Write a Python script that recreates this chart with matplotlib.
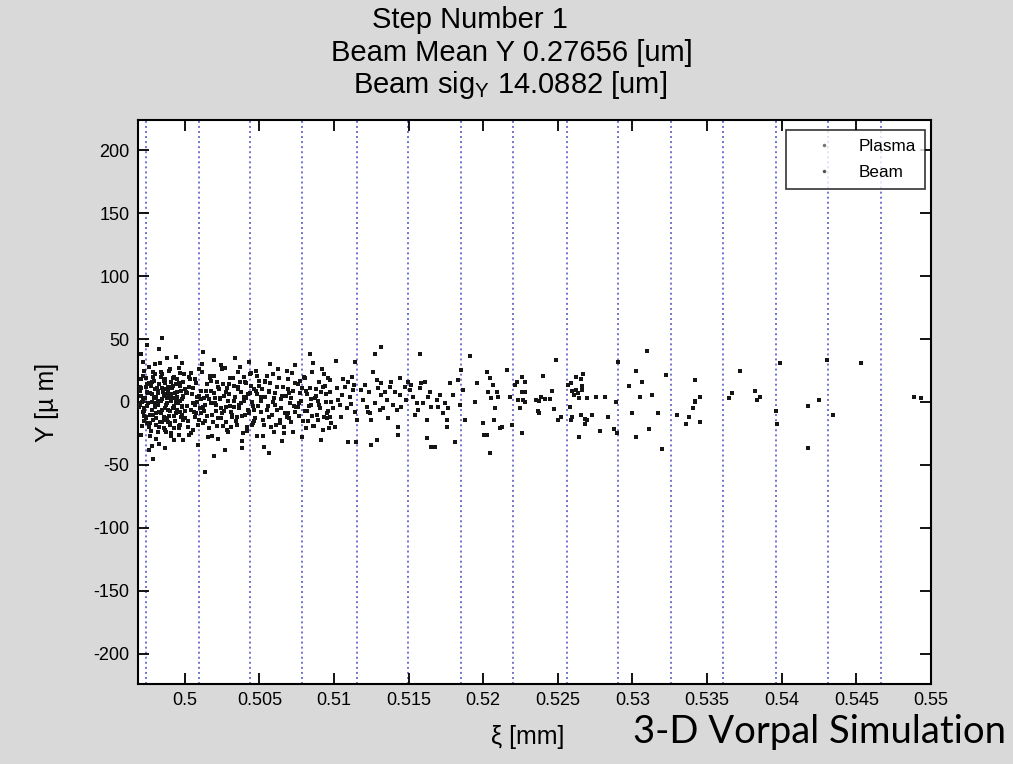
import numpy as np
import matplotlib
matplotlib.use("Agg")
from matplotlib import pyplot as plt

# plasma slab positions (mm)
plasma_zeta = [0.49743, 0.50096, 0.50440, 0.50789, 0.51151, 0.51497, 0.51848, 0.52200,
               0.52558, 0.52904, 0.53255, 0.53608, 0.53959, 0.54312, 0.54663]

# beam particles, head of the bunch (dense part)
head_zeta = [0.4971, 0.4972, 0.4971, 0.4973, 0.4972, 0.4974, 0.4975, 0.4973, 0.4976, 0.4975,
             0.4977, 0.4976, 0.4978, 0.4977, 0.4979, 0.4978, 0.4980, 0.4979, 0.4981, 0.4980,
             0.4982, 0.4981, 0.4983, 0.4982, 0.4984, 0.4983, 0.4985, 0.4984, 0.4986, 0.4985,
             0.4987, 0.4986, 0.4988, 0.4987, 0.4989, 0.4988, 0.4990, 0.4989, 0.4991, 0.4990,
             0.4992, 0.4991, 0.4993, 0.4992, 0.4994, 0.4993, 0.4995, 0.4994, 0.4996, 0.4995,
             0.4997, 0.4996, 0.4998, 0.4997, 0.4999, 0.4998, 0.5000, 0.4999, 0.4970, 0.4974,
             0.4978, 0.4982, 0.4986, 0.4990, 0.4994, 0.4998, 0.4972, 0.4976, 0.4980, 0.4984,
             0.4988, 0.4992, 0.4996, 0.4975, 0.4979, 0.4983, 0.4987, 0.4991, 0.4995, 0.4999,
             0.4973, 0.4977, 0.4981, 0.4985, 0.4989, 0.4993, 0.4997, 0.4971, 0.4975, 0.4979,
             0.49851, 0.49828, 0.50136, 0.50565, 0.50196, 0.49868, 0.49985, 0.50387]
head_y = [5, -8, 18, -15, 2, 12, -3, 25, -20, 8,
          -10, 15, 0, -27, 20, -6, 10, -14, 4, 30,
          -2, -18, 14, 7, -9, -33, 22, 1, -12, 11,
          -5, 17, 3, -22, 9, -1, 26, -16, 6, -7,
          13, -25, -3, 19, 0, -11, 8, 36, -19, 4,
          -8, 15, -4, 23, -14, 2, 10, -30, -2, -12,
          16, -24, 5, -18, 14, -10, 32, -38, -1, 20,
          -13, 3, -26, 45, -45, -8, 10, 16, -6, 5,
          -5, 7, -9, -16, 12, -21, 1, 11, -17, 24,
          50.6, 41.9, -55.4, -40.8, 33.4, -36.3, 31.0, -36.3]

head2_zeta = [0.49695, 0.49702, 0.49711, 0.49718, 0.49724, 0.49733, 0.49741, 0.49749, 0.49756, 0.49764,
              0.49771, 0.49779, 0.49786, 0.49794, 0.49802, 0.49809, 0.49817, 0.49824, 0.49832, 0.49839,
              0.49847, 0.49855, 0.49862, 0.49869, 0.49877, 0.49884, 0.49892, 0.49899, 0.49907, 0.49914,
              0.49922, 0.49929, 0.49937, 0.49944, 0.49952, 0.49959, 0.49967, 0.49974, 0.49982, 0.49989,
              0.49698, 0.49707, 0.49716, 0.49727, 0.49738, 0.49746, 0.49753, 0.49768, 0.49776, 0.49783,
              0.49791, 0.49799, 0.49806, 0.49814, 0.49821, 0.49828, 0.49836, 0.49844, 0.49851, 0.49858,
              0.49866, 0.49873, 0.49881, 0.49888, 0.49896, 0.49903, 0.49911, 0.49918, 0.49926, 0.49933,
              0.49941, 0.49948, 0.49956, 0.49963, 0.49971, 0.49978, 0.49986, 0.49993, 0.49999, 0.49705,
              0.50004, 0.50016, 0.50027, 0.50039, 0.50044, 0.50056, 0.50069, 0.50074, 0.50087, 0.50096,
              0.50107, 0.50115, 0.50123, 0.50134, 0.50143, 0.50155, 0.50164, 0.50175, 0.50184, 0.50198,
              0.50205, 0.50217, 0.50224, 0.50235, 0.50246, 0.50253, 0.50265, 0.50274, 0.50285, 0.50296,
              0.50302, 0.50315, 0.50324, 0.50336, 0.50347, 0.50354, 0.50366, 0.50373, 0.50385, 0.50397,
              0.50403, 0.50416, 0.50425, 0.50433, 0.50444, 0.50455, 0.50464, 0.50476, 0.50482, 0.50495,
              0.50511, 0.50527, 0.50538, 0.50551, 0.50566, 0.50579, 0.50593, 0.50608, 0.50621, 0.50636,
              0.50651, 0.50669, 0.50686, 0.50699, 0.50713, 0.50726, 0.50741, 0.50756, 0.50773, 0.50791,
              0.50808, 0.50822, 0.50844, 0.50862, 0.50881, 0.50899, 0.50918, 0.50934, 0.50949, 0.50965]
head2_y = [-4, 9, -19, 21, -7, 3, -13, 14, -1, 28,
           -23, 6, -10, 17, -4, -29, 11, 1, -16, 24,
           -6, 8, -21, 15, -2, 35, -11, 4, -27, 12,
           -5, 20, -15, 2, -8, 27, -18, 9, -3, 16,
           12, -26, 0, -11, 19, -3, 7, -17, 13, -35,
           3, 22, -13, -2, 9, -20, 31, -8, 2, -14,
           18, -24, 6, -6, 25, -17, 1, 11, -30, 7,
           -9, 18, -1, -21, 13, -12, 4, 22, -7, 38,
           -13, 7, 20, -6, -25, 11, -2, 15, -18, 5,
           -9, 24, -4, -15, 9, -28, 2, 17, -10, 21,
           -1, -19, 12, 3, -13, 26, -7, 8, -22, 14,
           -3, -12, 19, 4, -18, 10, -5, 28, -11, 1,
           16, -20, 6, -8, 23, -3, -15, 9, -27, 13,
           1, -14, 17, -6, 9, -20, 22, -2, 12, -17,
           5, -9, 25, -13, 3, -24, 15, -4, 7, -15,
           19, -7, 2, -19, 10, -2, 26, -12, 6, -21]

mid1_zeta = [0.50012, 0.50031, 0.50024, 0.50047, 0.50058, 0.50066, 0.50081, 0.50077, 0.50093, 0.50104,
             0.50112, 0.50125, 0.50131, 0.50146, 0.50152, 0.50168, 0.50173, 0.50181, 0.50195, 0.50207,
             0.50214, 0.50226, 0.50238, 0.50241, 0.50255, 0.50262, 0.50279, 0.50283, 0.50291, 0.50306,
             0.50312, 0.50327, 0.50333, 0.50344, 0.50359, 0.50361, 0.50375, 0.50382, 0.50394, 0.50405,
             0.50413, 0.50421, 0.50436, 0.50448, 0.50452, 0.50467, 0.50471, 0.50486, 0.50493, 0.50498,
             0.50019, 0.50042, 0.50063, 0.50085, 0.50099, 0.50118, 0.50139, 0.50161, 0.50177, 0.50202,
             0.50221, 0.50243, 0.50259, 0.50276, 0.50298, 0.50319, 0.50338, 0.50356, 0.50379, 0.50398,
             0.50417, 0.50439, 0.50458, 0.50479, 0.50008, 0.50036, 0.50053, 0.50072, 0.50089, 0.50109,
             0.50128, 0.50149, 0.50171, 0.50188, 0.50211, 0.50232, 0.50249, 0.50268, 0.50287, 0.50309,
             0.50331, 0.50352, 0.50368, 0.50391, 0.50411, 0.50428, 0.50446, 0.50463, 0.50484, 0.50028,
             0.50121, 0.50272, 0.50431, 0.50193]
mid1_y = [-3, 12, -15, 6, -22, 18, 0, -9, 26, -5,
          9, -17, 3, 14, -11, 21, -1, -27, 7, -7,
          16, -13, 2, 29, -19, 5, -4, 11, -24, 19,
          -8, 1, 13, -15, 24, -2, 8, -31, 4, -10,
          15, -6, 22, -18, 0, 10, -13, 6, -3, 17,
          -20, 23, -8, 4, -14, 30, -2, -21, 9, 3,
          -29, -5, 14, -16, 6, -10, 35, 12, -1, 20,
          -23, 7, -17, 25, 8, 18, -1, -12, -34, 2,
          -7, 5, 19, -16, -2, 10, -9, 27, 1, -20,
          -4, -12, 16, -25, 3, -9, 13, -6, 21, -26,
          40, -38, 32, -43]

mid2_zeta = [0.50508, 0.50517, 0.50529, 0.50536, 0.50549, 0.50555, 0.50568, 0.50574, 0.50589, 0.50597,
             0.50606, 0.50618, 0.50624, 0.50639, 0.50645, 0.50657, 0.50666, 0.50678, 0.50689, 0.50694,
             0.50707, 0.50715, 0.50728, 0.50737, 0.50746, 0.50759, 0.50764, 0.50779, 0.50785, 0.50797,
             0.50806, 0.50818, 0.50827, 0.50838, 0.50849, 0.50853, 0.50867, 0.50874, 0.50886, 0.50898,
             0.50905, 0.50916, 0.50924, 0.50937, 0.50948, 0.50956, 0.50963, 0.50522, 0.50541, 0.50563,
             0.50582, 0.50601, 0.50629, 0.50648, 0.50662, 0.50683, 0.50702, 0.50721, 0.50742, 0.50768,
             0.50789, 0.50811, 0.50833, 0.50857, 0.50879, 0.50893, 0.50912, 0.50931, 0.50952, 0.50514,
             0.50572, 0.50612, 0.50653, 0.50691, 0.50733, 0.50772, 0.50813, 0.50851, 0.50891, 0.50928,
             0.50958, 0.50532, 0.50837]
mid2_y = [-8, 10, -18, 4, 21, -3, -12, 15, 0, -24,
          7, -6, 26, -14, 2, 12, -20, 5, -9, 18,
          -1, -16, 9, 29, -4, 14, -11, 1, -28, 20,
          -7, 6, -15, 11, -2, 24, -19, 3, -10, 16,
          -5, 8, -22, 13, 0, -13, 19, -27, 16, 8,
          -10, 3, 19, -5, -25, -12, 7, 23, -8, -1,
          11, -21, -3, 31, 5, -14, -30, 22, -9, 4,
          30, -18, -31, 10, -3, 17, 9, -11, 1, 12,
          -7, -36, 38]

mid3_zeta = [0.50972, 0.50972, 0.50983, 0.50994, 0.50972, 0.50983, 0.51006, 0.51017, 0.51028, 0.51039,
             0.51050, 0.51057, 0.51061, 0.51073, 0.51084, 0.51095, 0.51106, 0.51117, 0.51124, 0.51128,
             0.51133, 0.51140, 0.51151, 0.51095, 0.51146, 0.51184, 0.51195, 0.51207, 0.51218, 0.51229,
             0.51236, 0.51240, 0.51251, 0.51251, 0.51262, 0.51274, 0.51285, 0.51285, 0.51296, 0.51307,
             0.51318, 0.51318, 0.51329, 0.51341, 0.51352, 0.51363, 0.51374, 0.51385, 0.51396, 0.51408,
             0.51419, 0.51430, 0.51430, 0.51441, 0.51441, 0.51452, 0.51475, 0.51481, 0.51497, 0.51508,
             0.51519, 0.51531, 0.51542, 0.51553, 0.51564, 0.51575, 0.51586, 0.51597, 0.51609, 0.51620,
             0.51631, 0.51642, 0.51653, 0.51620, 0.51653, 0.51676, 0.51687, 0.51698, 0.51709, 0.51732,
             0.51743, 0.51754, 0.51758, 0.51765, 0.51776, 0.51799, 0.51810, 0.51832, 0.51843, 0.51854,
             0.51866, 0.51877, 0.51944, 0.51955, 0.52000, 0.52006, 0.52022, 0.52022, 0.52033, 0.52044,
             0.52055, 0.52067, 0.52071, 0.52078, 0.52089, 0.52100, 0.52111, 0.52123, 0.52044, 0.52156,
             0.52178, 0.52190, 0.52212, 0.52223, 0.52234, 0.52245, 0.52257, 0.52263, 0.52257, 0.52268,
             0.51318, 0.51274, 0.51575, 0.51910, 0.51012, 0.51140]
mid3_y = [17.5, 8.2, 0.3, -5.0, -11.7, -17.0, -19.6, 10.9, 1.6, -2.4,
          -11.7, 5.6, 18.0, 12.2, -5.0, 16.2, 3.7, -1.6, 20.2, 9.6,
          13.5, -7.7, -14.3, -31.5, -31.5, 9.6, 1.6, 13.5, -3.7, -7.7,
          8.2, -9.0, -14.3, -34.2, 24.1, -1.1, 17.5, -30.2, 10.9, -6.4,
          14.9, 5.6, -5.0, 8.2, 1.6, -13.0, 12.2, 16.2, -2.4, 8.2,
          -6.4, -19.6, -26.2, 5.6, 18.8, -3.7, 12.2, 1.6, 16.2, 9.6,
          13.5, 4.3, -10.3, -1.1, -6.4, 10.9, 14.9, -1.1, 16.2, -14.3,
          4.3, 8.2, -3.7, -28.9, -35.5, -35.5, 1.6, -3.7, 5.6, -9.0,
          -1.1, -14.3, -19.6, -5.0, 14.9, 5.6, -31.5, 17.5, -2.4, 25.4,
          9.6, -14.3, 0.3, 14.9, -17.0, -26.2, -26.2, 24.1, 8.2, 18.8,
          2.9, 13.5, -14.3, -5.0, 8.2, 4.3, -20.9, -19.6, -40.8, 25.4,
          4.3, -18.3, 13.5, 16.2, 1.6, -5.0, -24.9, 8.2, 20.2, 1.6,
          44.0, 38.2, 38.2, 36.6, 32.9, 32.1]

tail_zeta = [0.52485, 0.52402, 0.52279, 0.52279, 0.52279, 0.52353, 0.52373, 0.52386, 0.52413, 0.52446,
             0.52458, 0.52364, 0.52375, 0.52473, 0.52498, 0.52520, 0.52569, 0.52585, 0.52619, 0.52654,
             0.52670, 0.52659, 0.52659, 0.52596, 0.52619, 0.52632, 0.52610, 0.52643, 0.52692, 0.52755,
             0.52815, 0.52580, 0.52596, 0.52585, 0.52654, 0.52681, 0.52692, 0.52681, 0.52730, 0.52643,
             0.52782, 0.52837, 0.52878, 0.52893, 0.52889, 0.52900, 0.53023, 0.53061, 0.52976, 0.53050,
             0.53132, 0.53099, 0.52998, 0.53172, 0.53110, 0.53023, 0.53195, 0.53222, 0.53295, 0.53380,
             0.53356, 0.53452, 0.53418, 0.53452, 0.53418, 0.53418, 0.53403,
             0.53720, 0.53664, 0.53648, 0.53820, 0.53854, 0.53832, 0.53988, 0.53961, 0.53966, 0.54174,
             0.54249, 0.54301, 0.54345, 0.54174, 0.54531, 0.54886, 0.54935]
tail_y = [33.1, 20.7, 16.1, 8.2, 0.2, 1.6, 1.0, 4.2, 2.6, 2.6,
          8.7, -7.2, -9.0, -5.8, -14.3, -11.7, 13.5, 14.9, 20.1, 18.3,
          22.0, 13.0, 9.5, 9.0, 9.5, 6.9, 5.6, 2.9, 2.9, 4.2,
          4.2, -4.2, -11.7, -14.3, -10.3, -13.3, -14.3, -17.5, -10.3, -27.6,
          -23.1, -11.7, -21.7, -24.9, 0.2, 32.0, 24.6, 15.9, 13.0, 4.2,
          5.6, 40.5, -9.0, -9.0, -21.7, -27.6, -37.6, 21.5, -10.3, -11.7,
          -17.5, -16.1, 17.5, 4.2, 1.0, -0.2, -4.5,
          24.6, 7.4, 2.9, 8.7, 4.2, 1.6, 30.8, -6.9, -17.5, -3.2,
          1.6, 33.4, -10.3, -36.3, 30.8, 4.2, 2.9]

xticks = [0.5, 0.505, 0.51, 0.515, 0.52, 0.525, 0.53, 0.535, 0.54, 0.545, 0.55]
xticklabels = ["0.5", "0.505", "0.51", "0.515", "0.52", "0.525", "0.53", "0.535", "0.54", "0.545", "0.55"]
yticks = [-200, -150, -100, -50, 0, 50, 100, 150, 200]

plt.rcParams['font.family'] = ['Liberation Sans', 'DejaVu Sans']
plt.rcParams['axes.unicode_minus'] = False

W, H = 1013, 764
fig = plt.figure(figsize=(W / 100, H / 100), dpi=100, facecolor='#d9d9d9')
ax = fig.add_axes([138 / W, 1 - 684 / H, (931 - 138) / W, (684 - 120) / H])
ax.set_facecolor('white')

for z in plasma_zeta:
    ax.axvline(z, color='#5858c8', lw=1.4, linestyle=(0, (1, 1.6)), alpha=0.85, zorder=1)

beam_zeta = head_zeta + head2_zeta + mid1_zeta + mid2_zeta + mid3_zeta + tail_zeta
beam_y = head_y + head2_y + mid1_y + mid2_y + mid3_y + tail_y
ax.plot(beam_zeta, beam_y, ls='none', marker='s', ms=2.5, mew=0, color='#151515', zorder=3)

# legend proxies
ax.plot([], [], ls='none', marker='.', ms=3, color='#777777', label='Plasma')
ax.plot([], [], ls='none', marker='.', ms=3, color='#555555', label='Beam')

ax.set_xlim(0.49687, 0.55)
ax.set_ylim(-224, 224)
ax.set_xticks(xticks)
ax.set_xticklabels(xticklabels)
ax.set_yticks(yticks)
ax.tick_params(direction='in', length=8, width=1.3, top=True, right=True,
               labelsize=13, pad=6, colors='black')
for s in ax.spines.values():
    s.set_linewidth(1.5)
    s.set_color('black')

leg = ax.legend(loc='upper right', bbox_to_anchor=((925 - 138) / 793, (684 - 130) / 564),
                borderaxespad=0, fontsize=12.3, frameon=True, fancybox=False,
                handlelength=3.4, handletextpad=0.3, borderpad=0.55, labelspacing=0.6,
                markerfirst=True)
leg.get_frame().set_edgecolor('black')
leg.get_frame().set_linewidth(1.2)

fig.text(470 / W, 1 - 28 / H, "Step Number 1", ha='center', va='baseline', fontsize=21)
fig.text(512 / W, 1 - 61 / H, "Beam Mean Y 0.27656 [um]", ha='center', va='baseline', fontsize=21)
fig.text(510 / W, 1 - 93 / H, r"Beam sig$_\mathregular{Y}$ 14.0882 [um]", ha='center', va='baseline', fontsize=21)

fig.text(528 / W, 1 - 737 / H, "ξ [mm]", ha='center', va='center', fontsize=18)
fig.text(47 / W, 1 - 402 / H, "Y [µ m]", ha='center', va='center', rotation=90, fontsize=18)

sim = fig.text(1006 / W, 1 - 743 / H, "3-D Vorpal Simulation", ha='right', va='baseline',
               fontsize=32, family=['Liberation Sans Narrow', 'Lato', 'DejaVu Sans'])
fig.canvas.draw()
bb = sim.get_window_extent()
sim.set_fontsize(32 * 373 / bb.width)

fig.savefig('out.png', dpi=100, facecolor=fig.get_facecolor())
